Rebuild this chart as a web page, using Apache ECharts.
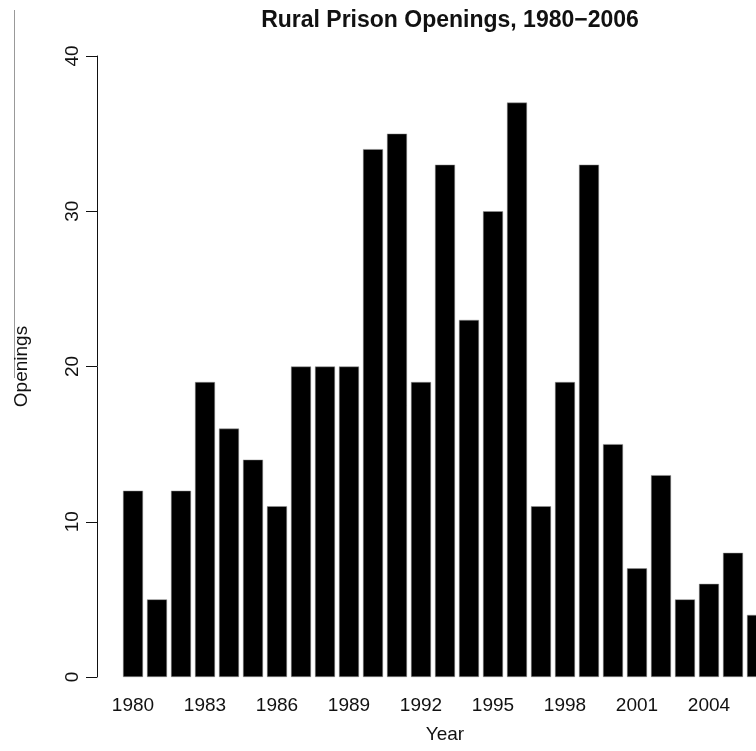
<!DOCTYPE html>
<html>
<head>
<meta charset="utf-8">
<script src="https://cdn.jsdelivr.net/npm/echarts@6/dist/echarts.min.js"></script>
<style>
  html, body { margin: 0; padding: 0; background: #fff; }
  #chart { width: 756px; height: 751px; }
</style>
</head>
<body>
<div id="chart"></div>
<script>
  // rural prison openings per year
  var years = ['1980', '1981', '1982', '1983', '1984', '1985', '1986', '1987', '1988', '1989',
    '1990', '1991', '1992', '1993', '1994', '1995', '1996', '1997', '1998', '1999',
    '2000', '2001', '2002', '2003', '2004', '2005', '2006']
  var openings = [12, 5, 12, 19, 16, 14, 11, 20, 20, 20,
    34, 35, 19, 33, 23, 30, 37, 11, 19, 33,
    15, 7, 13, 5, 6, 8, 4]
  var yTicks = [0, 10, 20, 30, 40]

  var font = 'Liberation Sans, Arial, sans-serif'
  var chart = echarts.init(document.getElementById('chart'))
  chart.setOption({
    backgroundColor: '#fff',
    animation: false,
    title: {
      text: 'Rural Prison Openings, 1980\u22122006',
      left: 445,
      top: 4,
      textAlign: 'center',
      textStyle: { fontFamily: font, fontSize: 23, fontWeight: 'bold', color: '#111' }
    },
    graphic: [
      {
        type: 'line',
        shape: { x1: 14.5, y1: 10, x2: 14.5, y2: 378 },
        style: { stroke: '#999', lineWidth: 1 }
      }
    ],
    // plot runs past the right edge, the 2006 bar is cut like in the source
    grid: { left: 121, top: 56, width: 648, height: 621, outerBoundsMode: 'none', containLabel: false },
    xAxis: {
      type: 'category',
      data: years,
      name: 'Year',
      nameLocation: 'middle',
      nameGap: 48,
      nameTextStyle: { fontFamily: font, fontSize: 19, color: '#111' },
      axisLine: { show: false },
      axisTick: { show: false },
      axisLabel: {
        interval: 2,
        margin: 19,
        fontFamily: font,
        fontSize: 19,
        color: '#111'
      }
    },
    yAxis: {
      type: 'value',
      min: yTicks[0],
      max: yTicks[yTicks.length - 1],
      interval: 10,
      offset: 24,
      name: 'Openings',
      nameLocation: 'middle',
      nameGap: 66,
      nameRotate: 90,
      nameTextStyle: { fontFamily: font, fontSize: 19, color: '#111' },
      splitLine: { show: false },
      axisLine: { show: true, lineStyle: { color: '#111', width: 1 } },
      axisTick: { show: true, length: 11, lineStyle: { color: '#111' } },
      axisLabel: {
        rotate: 90,
        margin: 15,
        fontFamily: font,
        fontSize: 19,
        color: '#111'
      }
    },
    series: [
      {
        type: 'bar',
        data: openings,
        barWidth: 20,
        itemStyle: { color: '#000', borderColor: '#999', borderWidth: 0.5 }
      }
    ]
  })
</script>
</body>
</html>
